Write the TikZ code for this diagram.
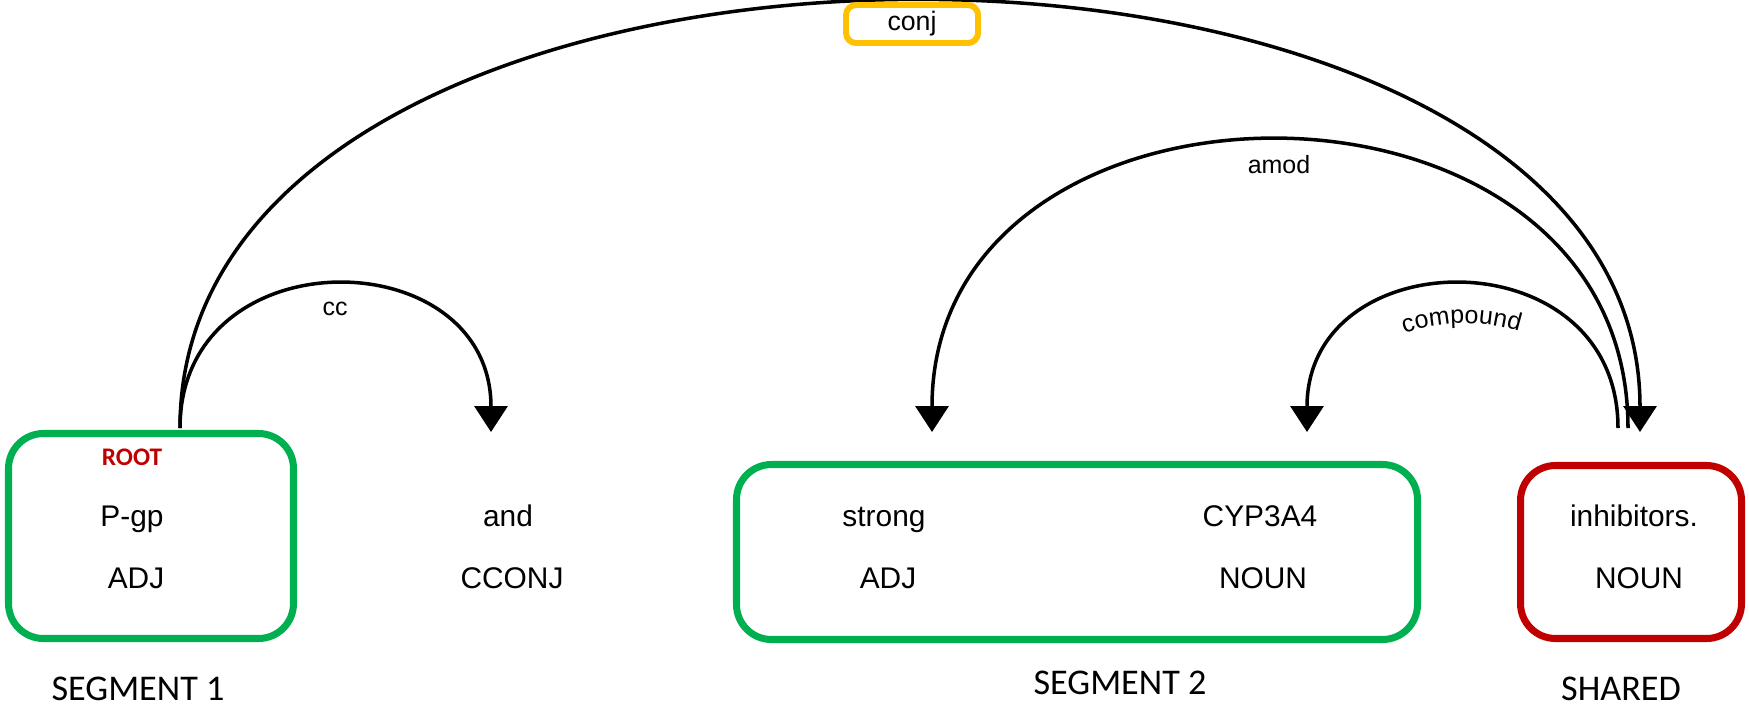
\documentclass[tikz,border=0pt]{standalone}
\usepackage{fontspec}
\setmainfont{Liberation Sans}
\newfontfamily\segfont{Carlito}
\usetikzlibrary{arrows.meta,decorations.text}
\definecolor{segGreen}{HTML}{00B050}
\definecolor{sharedRed}{HTML}{C00000}
\definecolor{conjGold}{HTML}{FFC000}
\newcommand\wordsize{\fontsize{8.5}{10}\selectfont}
\newcommand\lblsize{\fontsize{7.1}{8.5}\selectfont}
\newcommand\segsize{\fontsize{10.3}{12}\selectfont}
\tikzset{
  word/.style={font=\wordsize, anchor=base, inner sep=0pt},
  segbox/.style={draw=#1, line width=2pt, rounded corners=3.5mm, inner sep=0pt},
  seglabel/.style={font=\segfont\segsize, anchor=base, inner sep=0pt},
  arc/.style={line width=1pt, -{Triangle[width=3.3mm,length=2.6mm]}},
  rel/.style={font=\lblsize, anchor=base, inner sep=0pt}
}
\begin{document}
\begin{tikzpicture}
  \useasboundingbox (0,0) rectangle (17.49,7.06);
  % segments
  \node[segbox=segGreen, minimum width=2.85cm, minimum height=2.05cm] (seg1) at (1.51,1.70) {};
  \node[segbox=segGreen, minimum width=6.81cm, minimum height=1.75cm] (seg2) at (10.77,1.54) {};
  \node[segbox=sharedRed, minimum width=2.21cm, minimum height=1.73cm] (shared) at (16.31,1.54) {};
  \node[seglabel] (seg1-lbl) at (1.38,0.06) {SEGMENT 1};
  \node[seglabel] (seg2-lbl) at (11.20,0.12) {SEGMENT 2};
  \node[seglabel] (shared-lbl) at (16.21,0.06) {SHARED};
  \node[font=\segfont\bfseries\fontsize{7.2}{8}\selectfont, text=sharedRed, inner sep=0pt] (root) at (1.32,2.49) {ROOT};
  % words and tags
  \foreach \n/\x/\xt/\w/\t in {pgp/1.32/1.36/P-gp/ADJ, and/5.08/5.12/and/CCONJ,
      strong/8.84/8.88/strong/ADJ, cyp/12.60/12.63/CYP3A4/NOUN, inh/16.34/16.39/inhibitors./NOUN}{
    \node[word] (\n) at (\x,1.80) {\w};
    \node[word] (\n-tag) at (\xt,1.18) {\t};
  }
  % arc ends
  \coordinate (pgp-arc) at (1.80,2.78);
  \coordinate (and-arc) at (4.91,2.74);
  \coordinate (strong-arc) at (9.32,2.74);
  \coordinate (cyp-arc) at (13.07,2.74);
  \coordinate (inh-comp) at (16.18,2.78);
  \coordinate (inh-amod) at (16.28,2.78);
  \coordinate (inh-arc) at (16.40,2.74);
  % arcs
  \draw[arc] (pgp-arc) .. controls +(0,1.93) and +(0,1.93) .. (and-arc);
  \draw[arc] (pgp-arc) .. controls +(0,5.7) and +(0,5.7) .. (inh-arc);
  \draw[arc] (inh-amod) .. controls +(0,3.85) and +(0,3.85) .. (strong-arc);
  \draw[arc] (inh-comp) .. controls +(0,1.93) and +(0,1.93) .. (cyp-arc);
  % labels
  \node[rel] (cc) at (3.35,3.91) {cc};
  \node[rel] (amod) at (12.79,5.33) {amod};
  \path[decorate, decoration={text along path, text align=center, text={|\lblsize|compound}}]
    ([yshift=-3.8mm]cyp-arc) .. controls +(0,1.93) and +(0,1.93) .. ([yshift=-3.8mm]inh-comp);
  \node[draw=conjGold, line width=1.7pt, rounded corners=1mm, fill=white, font=\fontsize{7.6}{9}\selectfont,
    minimum width=1.32cm, minimum height=0.38cm, inner sep=0pt] (conj) at (9.12,6.82) {conj};
\end{tikzpicture}
\end{document}
